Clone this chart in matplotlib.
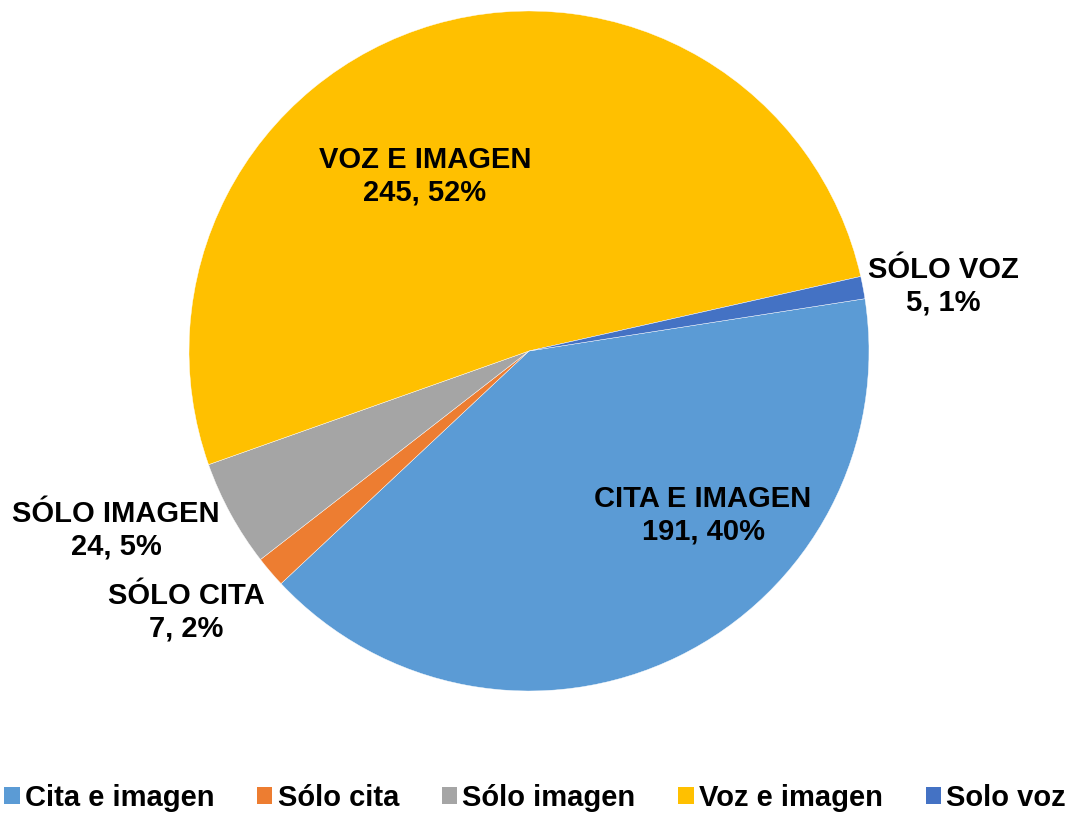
import matplotlib
matplotlib.use("Agg")
import matplotlib.pyplot as plt
from matplotlib.patches import Patch

categories = ["Cita e imagen", "Sólo cita", "Sólo imagen", "Voz e imagen", "Solo voz"]
values = [191, 7, 24, 245, 5]
label_names = ["CITA E IMAGEN", "SÓLO CITA", "SÓLO IMAGEN", "VOZ E IMAGEN", "SÓLO VOZ"]
percents = [40, 2, 5, 52, 1]
colors = ["#5B9BD5", "#ED7D31", "#A5A5A5", "#FFC000", "#4472C4"]

plt.rcParams['font.family'] = ['Liberation Sans', 'DejaVu Sans']

W, H = 1068, 815
fig = plt.figure(figsize=(W / 100, H / 100), dpi=100)
ax = fig.add_axes([0, 0, 1, 1])
R = 340.0
cx, cy = 529.0, 351.0

wedges, _ = ax.pie(values, colors=colors, startangle=8.85, counterclock=False,
                   radius=1.0, center=(0, 0), frame=True,
                   wedgeprops=dict(edgecolor='white', linewidth=0.3))
ax.set_xlim(-cx / R, (W - cx) / R)
ax.set_ylim(-(H - cy) / R, cy / R)
ax.set_aspect('equal')
ax.axis('off')

def px(x, y):
    return (x - cx) / R, (cy - y) / R

label_pix = [(703, 515), (186, 612), (116, 530), (425, 176), (943, 286)]
for name, v, p, (x, y) in zip(label_names, values, percents, label_pix):
    ax.text(*px(x, y), f"{name}\n{v}, {p}%", ha='center', va='center',
            fontsize=21, fontweight='bold', color='black', linespacing=1.2)

handles = [Patch(facecolor=c, edgecolor='none') for c in colors]
fig.legend(handles, categories, loc='center', bbox_to_anchor=(535 / W, 1 - 798 / H),
           ncol=5, frameon=False, prop=dict(size=21, weight='bold'),
           handlelength=0.52, handleheight=0.52, handletextpad=0.18,
           columnspacing=1.47, borderaxespad=0, borderpad=0)

fig.savefig("out.png", dpi=100)
